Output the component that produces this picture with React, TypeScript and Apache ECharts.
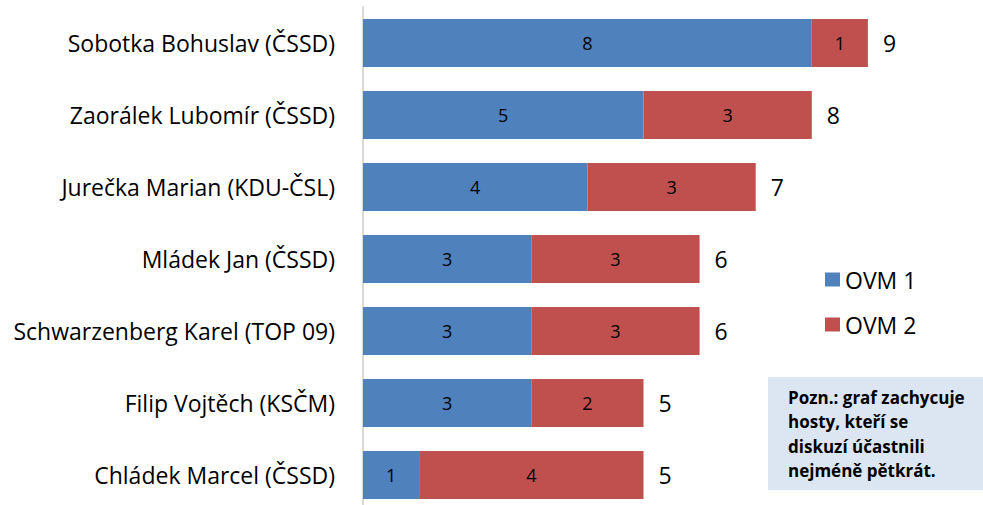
import React, { useEffect, useRef } from "react";
import * as echarts from "echarts";

const categories = [
  "Sobotka Bohuslav (ČSSD)",
  "Zaorálek Lubomír (ČSSD)",
  "Jurečka Marian (KDU-ČSL)",
  "Mládek Jan (ČSSD)",
  "Schwarzenberg Karel (TOP 09)",
  "Filip Vojtěch (KSČM)",
  "Chládek Marcel (ČSSD)",
];
const ovm1 = [8, 5, 4, 3, 3, 3, 1];
const ovm2 = [1, 3, 3, 3, 3, 2, 4];
const totals = [9, 8, 7, 6, 6, 5, 5];
const noteLines = [
  "Pozn.: graf zachycuje",
  "hosty, kteří se",
  "diskuzí účastnili",
  "nejméně pětkrát.",
];

const FONT = "'Open Sans', 'Noto Sans', sans-serif";

export default function App() {
  const ref = useRef<HTMLDivElement>(null);
  useEffect(() => {
    document.body.style.margin = "0";
    if (!ref.current) return;
    const chart = echarts.init(ref.current, null, { renderer: "svg" });
    chart.setOption({
      animation: false,
      backgroundColor: "#ffffff",
      grid: { left: 363, top: 7, width: 561, height: 504 },
      xAxis: {
        type: "value",
        min: 0,
        max: 10,
        show: false,
      },
      yAxis: {
        type: "category",
        data: categories,
        inverse: true,
        axisLine: { show: true, lineStyle: { color: "#d9d9d9", width: 2 } },
        axisTick: { show: false },
        axisLabel: {
          color: "#000",
          fontFamily: FONT,
          fontSize: 23,
          margin: 28,
        },
      },
      legend: {
        data: ["OVM 1", "OVM 2"],
        orient: "vertical",
        left: 820,
        top: 263,
        itemWidth: 15,
        itemHeight: 14,
        itemGap: 22,
        icon: "rect",
        textStyle: { color: "#000", fontFamily: FONT, fontSize: 23 },
      },
      series: [
        {
          name: "OVM 1",
          type: "bar",
          stack: "s",
          data: ovm1,
          barWidth: 48,
          itemStyle: { color: "#4f81bd" },
          label: { show: true, position: "inside", color: "#000", fontFamily: FONT, fontSize: 18 },
        },
        {
          name: "OVM 2",
          type: "bar",
          stack: "s",
          data: ovm2,
          barWidth: 48,
          itemStyle: { color: "#c0504d" },
          label: { show: true, position: "inside", color: "#000", fontFamily: FONT, fontSize: 18 },
        },
        {
          name: "Celkem",
          type: "bar",
          stack: "s",
          data: totals.map(() => 0),
          barWidth: 48,
          itemStyle: { color: "transparent" },
          label: {
            show: true,
            position: "right",
            distance: 15,
            color: "#000",
            fontFamily: FONT,
            fontSize: 23,
            formatter: (p: any) => String(totals[p.dataIndex]),
          },
        },
      ],
      graphic: [
        {
          type: "rect",
          shape: { x: 768, y: 377, width: 215, height: 113 },
          style: { fill: "#dce6f2" },
          silent: true,
        },
        ...noteLines.map((t, i) => ({
          type: "text",
          x: 788,
          y: 397 + i * 24.5,
          style: {
            text: t,
            fill: "#000",
            font: `bold 17px ${FONT}`,
            textVerticalAlign: "middle",
          },
        })),
      ],
    });
    return () => chart.dispose();
  }, []);
  return (
    <div style={{ width: 983, height: 505, overflow: "hidden" }}>
      <div ref={ref} style={{ width: 983, height: 511 }} />
    </div>
  );
}
